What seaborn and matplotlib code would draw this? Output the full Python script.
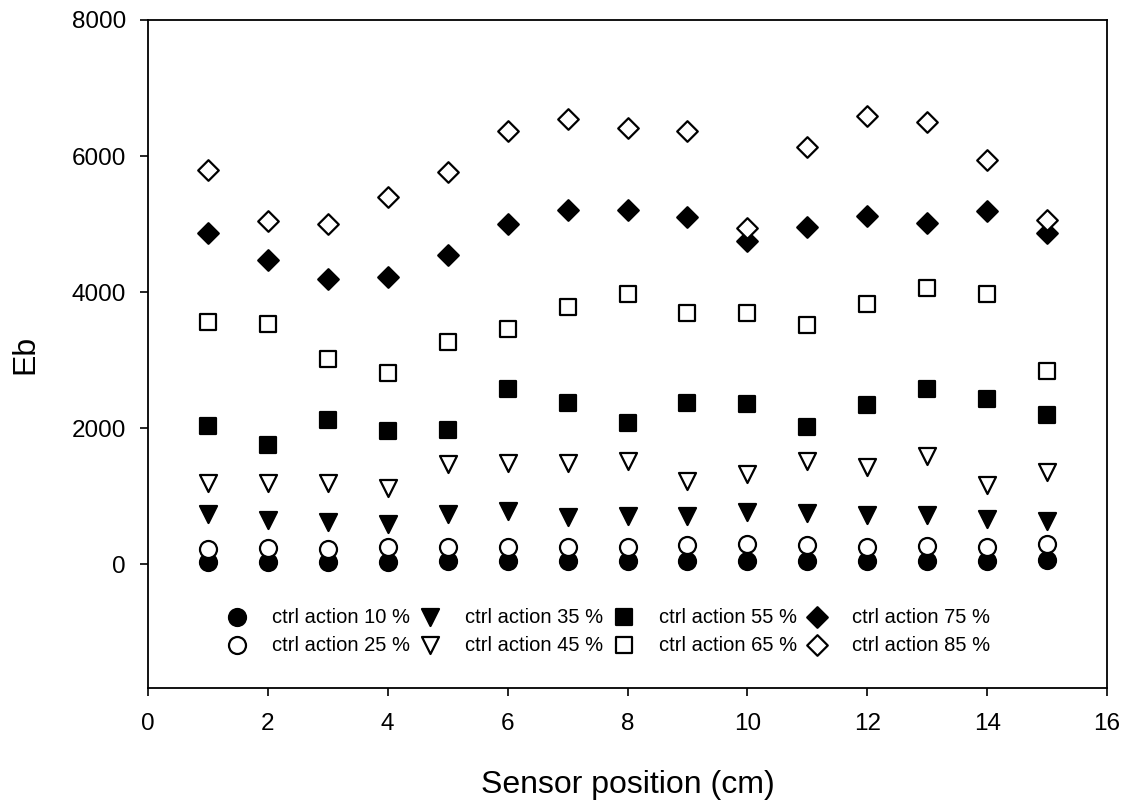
import numpy as np
import pandas as pd
import matplotlib
matplotlib.use("Agg")
import matplotlib.pyplot as plt
import seaborn as sns

# Sensor positions (cm)
positions = [1, 2, 3, 4, 5, 6, 7, 8, 9, 10, 11, 12, 13, 14, 15]

# Eb for each control action level
eb_10 = [30, 30, 30, 30, 40, 40, 40, 40, 40, 50, 50, 50, 50, 50, 60]
eb_25 = [230, 240, 230, 250, 250, 250, 250, 250, 280, 290, 280, 260, 270, 250, 300]
eb_35 = [740, 650, 620, 590, 740, 780, 690, 710, 710, 760, 750, 720, 720, 660, 630]
eb_45 = [1190, 1190, 1190, 1120, 1470, 1490, 1490, 1520, 1220, 1330, 1520, 1430, 1590, 1160, 1350]
eb_55 = [2030, 1750, 2120, 1960, 1980, 2570, 2370, 2070, 2370, 2350, 2020, 2340, 2570, 2430, 2190]
eb_65 = [3560, 3530, 3010, 2810, 3270, 3460, 3780, 3970, 3690, 3690, 3510, 3830, 4060, 3970, 2840]
eb_75 = [4870, 4470, 4190, 4220, 4540, 5000, 5200, 5210, 5100, 4750, 4950, 5120, 5020, 5190, 4870]
eb_85 = [5800, 5050, 5000, 5400, 5760, 6370, 6550, 6410, 6370, 4940, 6130, 6590, 6500, 5940, 5060]

labels = ["ctrl action 10 %", "ctrl action 25 %", "ctrl action 35 %", "ctrl action 45 %",
          "ctrl action 55 %", "ctrl action 65 %", "ctrl action 75 %", "ctrl action 85 %"]
series = [eb_10, eb_25, eb_35, eb_45, eb_55, eb_65, eb_75, eb_85]

# marker, filled?, size
styles = [("o", True, 150), ("o", False, 150), ("v", True, 150), ("v", False, 150),
          ("s", True, 130), ("s", False, 130), ("D", True, 110), ("D", False, 110)]

sns.set_theme(style="white")
plt.rcParams["font.family"] = ["Liberation Sans", "DejaVu Sans"]
for key in ("text.color", "axes.labelcolor", "xtick.color", "ytick.color"):
    plt.rcParams[key] = "black"

fig = plt.figure(figsize=(11.27, 8.0), dpi=100)
ax = fig.add_axes([0.1313, 0.14, 0.851, 0.835])

for lab, vals, (mk, filled, sz) in zip(labels, series, styles):
    df = pd.DataFrame({"pos": positions, "eb": vals})
    sns.scatterplot(data=df, x="pos", y="eb", ax=ax, marker=mk, s=sz,
                    color="black" if filled else "white",
                    edgecolor="black", linewidth=1.6, label=lab, zorder=3)

ax.set_xlim(0, 16)
ax.set_ylim(-1820, 8000)
ax.set_xticks(np.arange(0, 17, 2))
ax.set_yticks(np.arange(0, 8001, 2000))
ax.tick_params(axis="both", which="both", direction="out", length=6, width=1.2,
               labelsize=17.5, colors="black", bottom=True, left=True, top=False, right=False)
ax.tick_params(axis="x", pad=12)
ax.tick_params(axis="y", pad=10)
for sp in ax.spines.values():
    sp.set_color("black")
    sp.set_linewidth(1.3)

ax.set_xlabel("Sensor position (cm)", fontsize=23, labelpad=25)
ax.set_ylabel("Eb", fontsize=23, labelpad=22)

leg = ax.legend(loc="upper left", bbox_to_anchor=(0.0699, 0.1415), ncol=4, frameon=False,
                prop={"family": "Liberation Sans", "size": 14.5},
                handletextpad=1.34, columnspacing=0.6, handlelength=0.8,
                labelspacing=0.45, borderpad=0.2)

fig.savefig("out.png", dpi=100, facecolor="white")
